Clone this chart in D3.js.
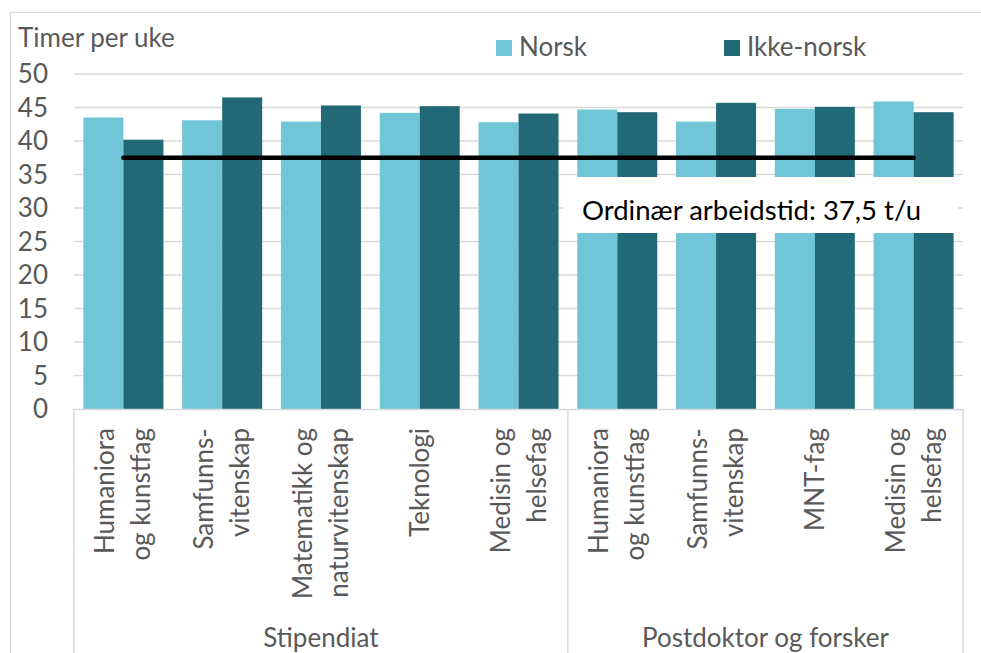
<!DOCTYPE html>
<html>
<head>
<meta charset="utf-8">
<script src="https://cdn.jsdelivr.net/npm/d3@7"></script>
<style>
  html, body { margin: 0; padding: 0; background: #fff; }
  svg { display: block; font-family: Lato, "Open Sans", sans-serif; }
</style>
</head>
<body>
<svg id="chart" width="981" height="653"></svg>
<script>
// Weekly working hours by field, Norwegian vs non-Norwegian staff
const categories = [
  ["Humaniora", "og kunstfag"],
  ["Samfunns-", "vitenskap"],
  ["Matematikk og", "naturvitenskap"],
  ["Teknologi"],
  ["Medisin og", "helsefag"],
  ["Humaniora", "og kunstfag"],
  ["Samfunns-", "vitenskap"],
  ["MNT-fag"],
  ["Medisin og", "helsefag"]
];
const groups = ["Stipendiat", "Postdoktor og forsker"];
const groupSizes = [5, 4];
const seriesNames = ["Norsk", "Ikke-norsk"];
const norsk = [43.5, 43.1, 42.9, 44.2, 42.8, 44.7, 42.9, 44.8, 45.9];
const ikkeNorsk = [40.2, 46.5, 45.3, 45.2, 44.1, 44.3, 45.7, 45.1, 44.3];
const yTicks = [0, 5, 10, 15, 20, 25, 30, 35, 40, 45, 50];
const normHours = 37.5;
const normLabel = "Ordinær arbeidstid: 37,5 t/u";
const yTitle = "Timer per uke";

const colors = ["#70c6d6", "#226977"];
const textColor = "#595959";
const gridColor = "#d9d9d9";
const fontSize = 26;

const svg = d3.select("#chart");
const plot = { left: 74, right: 963, top: 74, bottom: 409 };

const idx = d3.range(categories.length);
const x = d3.scaleBand().domain(idx).range([plot.left, plot.right])
  .paddingInner(0.19).paddingOuter(0.095);
const xs = d3.scaleBand().domain(seriesNames).range([0, x.bandwidth()]);
const y = d3.scaleLinear().domain([0, 50]).range([plot.bottom, plot.top]);

// outer frame
svg.append("rect").attr("x", 10.5).attr("y", 12.5).attr("width", 1000).attr("height", 700)
  .attr("fill", "none").attr("stroke", gridColor).attr("stroke-width", 1.2);

// gridlines
svg.append("g").selectAll("line").data(yTicks.filter(d => d > 0)).join("line")
  .attr("x1", plot.left).attr("x2", plot.right)
  .attr("y1", d => y(d)).attr("y2", d => y(d))
  .attr("stroke", gridColor).attr("stroke-width", 1.5);

// y tick labels
svg.append("g").selectAll("text").data(yTicks).join("text")
  .attr("x", 48).attr("y", d => y(d)).attr("dy", "0.35em")
  .attr("text-anchor", "end").attr("fill", textColor)
  .attr("font-size", fontSize).text(d => d);

// y title
svg.append("text").attr("x", 18).attr("y", 47).attr("fill", textColor)
  .attr("font-size", fontSize).text(yTitle);

// bars
const values = [norsk, ikkeNorsk];
seriesNames.forEach((s, si) => {
  svg.append("g").selectAll("rect").data(values[si]).join("rect")
    .attr("x", (d, i) => x(i) + xs(s))
    .attr("width", xs.bandwidth())
    .attr("y", d => y(d))
    .attr("height", d => y(0) - y(d))
    .attr("fill", colors[si]);
});

// x axis line and group separators
svg.append("line").attr("x1", plot.left).attr("x2", plot.right)
  .attr("y1", plot.bottom + 0.5).attr("y2", plot.bottom + 0.5)
  .attr("stroke", gridColor).attr("stroke-width", 1.5);
const step = x.step();
let acc = 0;
const bounds = [plot.left];
groupSizes.forEach(n => { acc += n; bounds.push(plot.left + acc * step); });
svg.append("g").selectAll("line").data(bounds).join("line")
  .attr("x1", d => d).attr("x2", d => d)
  .attr("y1", plot.bottom).attr("y2", 660)
  .attr("stroke", gridColor).attr("stroke-width", 1.5);

// category labels (rotated, up to two lines)
const lineGap = 36;
const catG = svg.append("g");
categories.forEach((lines, i) => {
  const cx = x(i) + x.bandwidth() / 2;
  lines.forEach((t, li) => {
    const off = (li - (lines.length - 1) / 2) * lineGap;
    const lx = cx + off;
    catG.append("text")
      .attr("transform", `translate(${lx},428) rotate(-90)`)
      .attr("text-anchor", "end").attr("dy", "0.35em")
      .attr("fill", textColor).attr("font-size", fontSize).text(t);
  });
});

// group labels
groups.forEach((g, gi) => {
  svg.append("text").attr("x", (bounds[gi] + bounds[gi + 1]) / 2).attr("y", 647)
    .attr("text-anchor", "middle").attr("fill", textColor)
    .attr("font-size", fontSize).text(g);
});

// reference line at ordinary working hours
svg.append("line")
  .attr("x1", x(0) + x.bandwidth() / 2).attr("x2", x(categories.length - 1) + x.bandwidth() / 2)
  .attr("y1", y(normHours)).attr("y2", y(normHours))
  .attr("stroke", "#000").attr("stroke-width", 4.5).attr("stroke-linecap", "round");

// annotation box
svg.append("rect").attr("x", 563).attr("y", 177).attr("width", 395).attr("height", 56)
  .attr("fill", "#fff");
svg.append("text").attr("x", 582).attr("y", 220).attr("fill", "#000")
  .attr("font-size", 27.5).text(normLabel);

// legend
const legendX = [496, 724];
seriesNames.forEach((s, si) => {
  svg.append("rect").attr("x", legendX[si]).attr("y", 40).attr("width", 16).attr("height", 16)
    .attr("fill", colors[si]);
  svg.append("text").attr("x", legendX[si] + 23).attr("y", 56).attr("fill", textColor)
    .attr("font-size", fontSize).text(s);
});
</script>
</body>
</html>
